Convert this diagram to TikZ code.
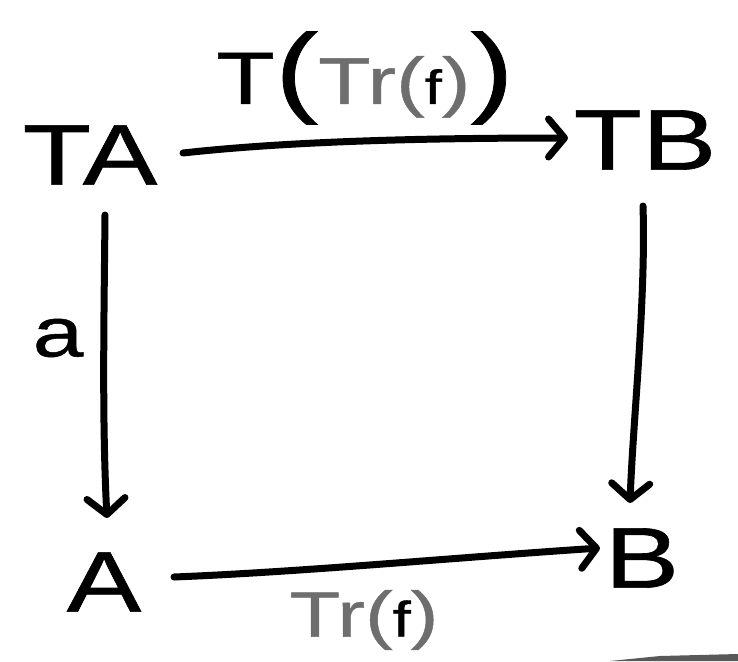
\documentclass[tikz,border=0pt]{standalone}
\usepackage{fontspec}
\setmainfont{Liberation Sans}[FakeStretch=1.3, FakeBold=0.7]
\usetikzlibrary{arrows.meta}
\definecolor{pen}{HTML}{6E6E6E}
\tikzset{
  obj/.style={inner sep=0pt, font=\fontsize{86}{86}\selectfont},
  lab/.style={inner sep=0pt},
  arr/.style={line width=7pt, line cap=round, line join=round,
    -{Straight Barb[length=16pt,width=38pt,line width=7pt,round]}},
}
\begin{document}
\begin{tikzpicture}[x=1pt,y=-1pt]
\useasboundingbox (0,0) rectangle (738,661);
\fill[white] (0,0) rectangle (738,661);
\node[obj] (TA) at (90,155) {TA};
\node[obj] (TB) at (645,140) {TB};
\node[obj] (A) at (104,582) {A};
\node[obj] (B) at (642,558) {B};
\node[lab] (top) at (365,78) {\fontsize{74}{74}\selectfont T\fontsize{100}{100}\selectfont(\fontsize{66}{66}\selectfont\textcolor{pen}{Tr(}\fontsize{48}{48}\selectfont f\fontsize{66}{66}\selectfont\textcolor{pen}{)}\fontsize{100}{100}\selectfont)};
\node[lab] (bot) at (364,620) {\fontsize{64}{64}\selectfont\textcolor{pen}{Tr(}\fontsize{50}{50}\selectfont f\fontsize{64}{64}\selectfont\textcolor{pen}{)}};
\node[lab] (a) at (58,338) {\fontsize{70}{70}\selectfont a};
\coordinate (s1) at (183,153); \coordinate (e1) at (568,138);
\coordinate (s2) at (105,215); \coordinate (e2) at (107,518);
\coordinate (s3) at (643,206); \coordinate (e3) at (630,503);
\coordinate (s4) at (174,577); \coordinate (e4) at (600,548);
\draw[arr] (s1) .. controls (300,140) and (450,138) .. (e1);
\draw[arr] (s2) .. controls (104,320) and (102,420) .. (e2);
\draw[arr] (s3) .. controls (646,300) and (633,420) .. (e3);
\draw[arr] (s4) .. controls (300,572) and (450,558) .. (e4);
\fill[pen!80!black] (610,661) -- (660,656) -- (738,654) -- (738,661) -- cycle;
\end{tikzpicture}
\end{document}
